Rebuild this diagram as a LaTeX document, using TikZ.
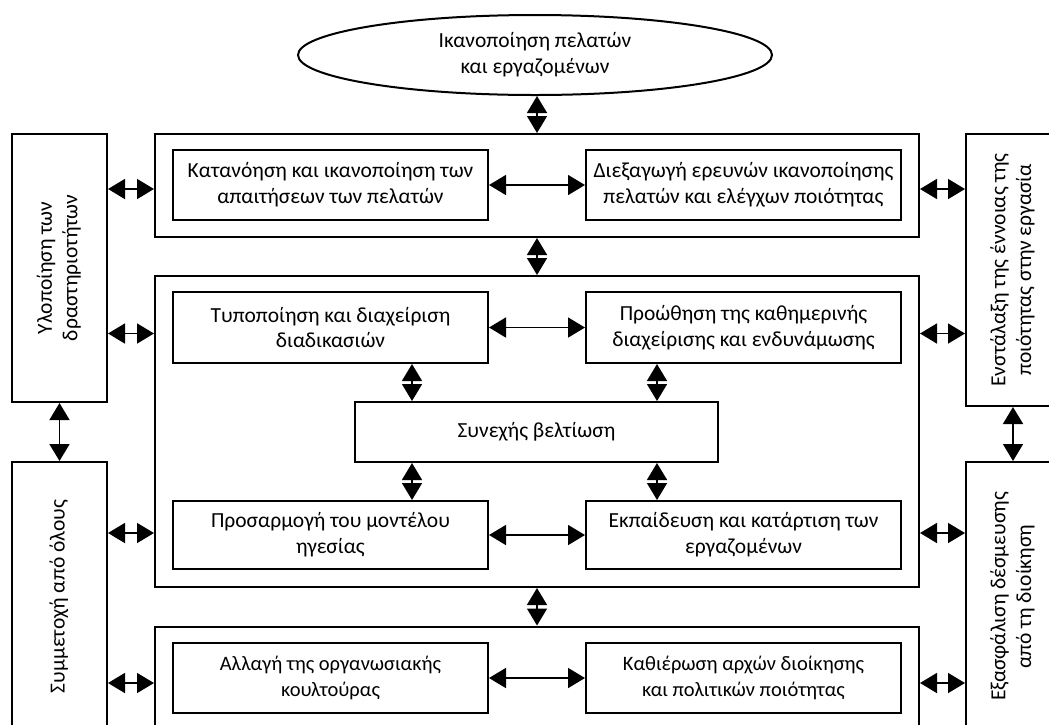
\documentclass[tikz,border=0pt]{standalone}
\usepackage{fontspec}
\setmainfont{Carlito}
\usetikzlibrary{shapes,arrows.meta,positioning,calc}

\newcommand{\vlabel}[1]{\rotatebox{90}{\begin{tabular}{@{}c@{}}#1\end{tabular}}}

\tikzstyle{frame} = [rectangle, draw=black, line width=2pt, minimum width=764pt, inner sep=0pt]
\tikzstyle{task} = [rectangle, draw=black, line width=2pt, minimum width=315pt, minimum height=70pt, align=center, inner sep=0pt]
\tikzstyle{side} = [rectangle, draw=black, line width=2pt, minimum width=95pt, inner sep=0pt]
\tikzstyle{goal} = [ellipse, draw=black, line width=2pt, minimum width=474pt, minimum height=80pt, align=center, inner sep=0pt]
\tikzstyle{dedge} = [draw, line width=1.6pt, >={Triangle[length=17pt,width=20pt]}, <->]

\begin{document}
\begin{tikzpicture}[x=1pt, y=-1pt, font=\fontsize{21.5}{25.7}\selectfont]

\useasboundingbox (0,0) rectangle (1049,724);
\clip (0,0) rectangle (1049,724);

% goal on top =============================
\node[goal] (goal) at (535,55) {Ικανοποίηση πελατών\\και εργαζομένων};

% three frames of the middle column =============================
\node[frame, minimum height=103pt] (top) at (537,185.5) {};
\node[frame, minimum height=311pt] (mid) at (537,431.5) {};
\node[frame, minimum height=103pt] (bot) at (537,678) {};

% tasks
\node[task] (kat) at (330.5,185) {Κατανόηση και ικανοποίηση των\\απαιτήσεων των πελατών};
\node[task, right=96pt of kat] (die) {Διεξαγωγή ερευνών ικανοποίησης\\πελατών και ελέγχων ποιότητας};

\node[task, minimum height=71pt] (typ) at (330.5,327.5) {Τυποποίηση και διαχείριση\\διαδικασιών};
\node[task, minimum height=71pt, right=96pt of typ] (pro) {Προώθηση της καθημερινής\\διαχείρισης και ενδυνάμωσης};

\node[task, minimum width=363pt, minimum height=60pt] (syn) at (536.5,432) {Συνεχής βελτίωση};

\node[task, minimum height=68pt] (pra) at (330.5,535) {Προσαρμογή του μοντέλου\\ηγεσίας};
\node[task, minimum height=68pt, right=96pt of pra] (ekp) {Εκπαίδευση και κατάρτιση των\\εργαζομένων};

\node[task, font=\fontsize{20.5}{25.7}\selectfont] (all) at (330.5,678) {Αλλαγή της οργανωσιακής\\κουλτούρας};
\node[task, font=\fontsize{20.5}{25.7}\selectfont, right=96pt of all] (kath) {Καθιέρωση αρχών διοίκησης\\και πολιτικών ποιότητας};

% side boxes =============================
\node[side, minimum height=268pt] (ylo) at (59.5,268) {\vlabel{Υλοποίηση των\\δραστηριοτήτων}};
\node[side, minimum height=269pt] (sym) at (59.5,596.5) {\vlabel{Συμμετοχή από όλους}};
\node[side, minimum width=94pt, minimum height=272pt] (ens) at (1013,270) {\vlabel{Ενστάλαξη της έννοιας της\\ποιότητας στην εργασία}};
\node[side, minimum width=94pt, minimum height=269pt] (exa) at (1013,596.5) {\vlabel{Εξασφάλιση δέσμευσης\\από τη διοίκηση}};

% edges
\path[dedge] (goal.south -| top.north) -- (top.north);
\path[dedge] (top.south) -- (mid.north);
\path[dedge] (mid.south) -- (bot.north);

\path[dedge] (kat) -- (die);
\path[dedge] (typ) -- (pro);
\path[dedge] (pra) -- (ekp);
\path[dedge] (all) -- (kath);

\coordinate (cl) at ($(syn.west)+(58,0)$);
\coordinate (cr) at ($(syn.east)+(-62,0)$);
\foreach \c in {cl,cr} {
  \path[dedge] (typ.south -| \c) -- (syn.north -| \c);
  \path[dedge] (syn.south -| \c) -- (pra.north -| \c);
}

\path[dedge] (ylo.south) -- (sym.north);
\path[dedge] (ens.south) -- (exa.north);

\foreach \s/\f/\r/\d in {ylo/top/kat/4, ylo/mid/typ/6, sym/mid/pra/-2, sym/bot/all/5}
  \path[dedge] ($(\s.east |- \r)+(0,\d)$) -- ($(\f.west |- \r)+(0,\d)$);
\foreach \s/\f/\r/\d in {ens/top/die/4, ens/mid/pro/6, exa/mid/ekp/-2, exa/bot/kath/5}
  \path[dedge] ($(\f.east |- \r)+(0,\d)$) -- ($(\s.west |- \r)+(0,\d)$);

\end{tikzpicture}
\end{document}
